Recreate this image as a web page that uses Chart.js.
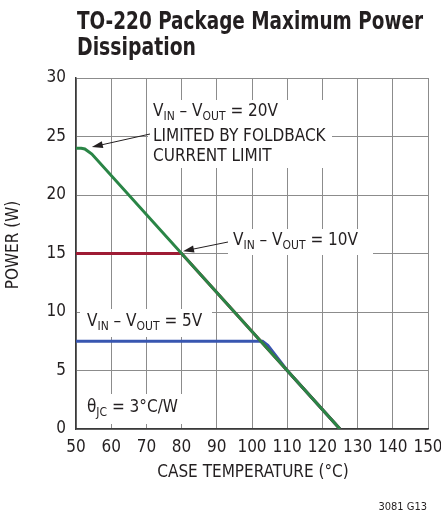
<!DOCTYPE html>
<html>
<head>
<meta charset="utf-8">
<script src="https://cdn.jsdelivr.net/npm/chart.js@4.4.1/dist/chart.umd.min.js"></script>
<style>
    html, body { margin: 0; padding: 0; background: #fff; }
    #wrap { width: 441px; height: 514px; position: relative; }
</style>
</head>
<body>
<div id="wrap"><canvas id="powerChart"></canvas></div>
<script>
    // case temperature (°C) / power (W)
    const greenTemp = [50, 51.5, 52.5, 53.5, 54.5, 125];
    const greenPower = [24, 24, 23.93, 23.72, 23.5, 0];
    const redTemp = [50, 80, 125];
    const redPower = [15, 15, 0];
    const blueTemp = [50, 103, 104.5, 110, 125];
    const bluePower = [7.5, 7.5, 7.15, 5, 0];

    const xTicks = [50, 60, 70, 80, 90, 100, 110, 120, 130, 140, 150];
    const yTicks = [0, 5, 10, 15, 20, 25, 30];

    const FONT = '"Liberation Sans Narrow", "DejaVu Sans Condensed", "Liberation Sans", sans-serif';
    const TEXT = '#231f20';

    function pts(xs, ys) {
        return xs.map(function(x, i) { return { x: x, y: ys[i] }; });
    }

    // V_IN – V_OUT = ... with subscripts
    function drawVLabel(ctx, x, y, tail) {
        const big = '17px ' + FONT;
        const small = '12px ' + FONT;
        const parts = [
            ['V', big, 0], ['IN', small, 5], [' \u2013 V', big, 0], ['OUT', small, 5], [tail, big, 0]
        ];
        ctx.textAlign = 'left';
        ctx.textBaseline = 'middle';
        let cx = x;
        parts.forEach(function(p) {
            ctx.font = p[1];
            ctx.fillText(p[0], cx, y + p[2]);
            cx += ctx.measureText(p[0]).width;
        });
        return cx - x;
    }

    // squeeze text into a given width (the original uses a condensed face)
    function fitText(ctx, txt, x, y, width) {
        const w = ctx.measureText(txt).width;
        ctx.save();
        ctx.translate(x, y);
        ctx.scale(Math.min(1, width / w), 1);
        ctx.fillText(txt, 0, 0);
        ctx.restore();
    }

    function arrow(ctx, x1, y1, x2, y2) {
        const ang = Math.atan2(y2 - y1, x2 - x1);
        ctx.strokeStyle = TEXT;
        ctx.fillStyle = TEXT;
        ctx.lineWidth = 1;
        ctx.beginPath();
        ctx.moveTo(x1, y1);
        ctx.lineTo(x2 - 8 * Math.cos(ang), y2 - 8 * Math.sin(ang));
        ctx.stroke();
        ctx.beginPath();
        ctx.moveTo(x2, y2);
        ctx.lineTo(x2 - 11 * Math.cos(ang) + 3.5 * Math.sin(ang), y2 - 11 * Math.sin(ang) - 3.5 * Math.cos(ang));
        ctx.lineTo(x2 - 11 * Math.cos(ang) - 3.5 * Math.sin(ang), y2 - 11 * Math.sin(ang) + 3.5 * Math.cos(ang));
        ctx.closePath();
        ctx.fill();
    }

    const notes = {
        id: 'notes',
        beforeDatasetsDraw: function(chart) {
            const ctx = chart.ctx;
            const xs = chart.scales.x, ys = chart.scales.y;
            ctx.save();

            // white boxes behind the labels
            ctx.fillStyle = '#fff';
            ctx.fillRect(148, 100, 184, 68);
            ctx.fillRect(228, 229, 145, 26);
            ctx.fillRect(80, 309, 132, 28);
            ctx.fillRect(80, 394, 110, 30);

            ctx.fillStyle = TEXT;
            drawVLabel(ctx, 153, 112, ' = 20V');
            ctx.font = '17px ' + FONT;
            ctx.fillText('LIMITED BY FOLDBACK', 153, 137);
            ctx.fillText('CURRENT LIMIT', 153, 157);
            drawVLabel(ctx, 233, 241, ' = 10V');
            drawVLabel(ctx, 87, 322, ' = 5V');

            // theta JC
            ctx.font = '17px ' + FONT;
            ctx.fillText('\u03b8', 87, 408);
            let w = ctx.measureText('\u03b8').width;
            ctx.font = '12px ' + FONT;
            ctx.fillText('JC', 87 + w, 413);
            w += ctx.measureText('JC').width;
            ctx.font = '17px ' + FONT;
            ctx.fillText(' = 3\u00b0C/W', 87 + w, 408);

            arrow(ctx, 150, 134, xs.getPixelForValue(54.5), ys.getPixelForValue(24.1));
            arrow(ctx, 228, 242, xs.getPixelForValue(80.4), ys.getPixelForValue(15.2));
            ctx.restore();
        },
        afterDraw: function(chart) {
            const ctx = chart.ctx;
            ctx.save();
            ctx.fillStyle = TEXT;
            ctx.textBaseline = 'alphabetic';
            ctx.textAlign = 'left';
            ctx.font = 'bold 25px ' + FONT;
            fitText(ctx, 'TO-220 Package Maximum Power', 77, 29, 346);
            fitText(ctx, 'Dissipation', 77, 55, 119);

            ctx.font = '17px ' + FONT;
            ctx.textAlign = 'center';
            ctx.textBaseline = 'middle';
            ctx.fillText('CASE TEMPERATURE (\u00b0C)', 253, 473);
            ctx.translate(14, 245);
            ctx.rotate(-Math.PI / 2);
            ctx.fillText('POWER (W)', 0, 0);
            ctx.restore();

            ctx.save();
            ctx.fillStyle = TEXT;
            ctx.font = '11px ' + FONT;
            ctx.textAlign = 'right';
            ctx.textBaseline = 'middle';
            ctx.fillText('3081 G13', 427, 507);
            ctx.restore();
        }
    };

    const lineStyle = { showLine: true, fill: false, pointRadius: 0, borderWidth: 3, tension: 0 };

    new Chart(document.getElementById('powerChart'), {
        type: 'scatter',
        data: {
            datasets: [
                Object.assign({ label: 'Limit', data: pts(greenTemp, greenPower), borderColor: '#2a8546' }, lineStyle),
                Object.assign({ label: '10V', data: pts(redTemp, redPower), borderColor: '#9e1b34' }, lineStyle),
                Object.assign({ label: '5V', data: pts(blueTemp, bluePower), borderColor: '#3856b0' }, lineStyle)
            ]
        },
        options: {
            responsive: true,
            maintainAspectRatio: false,
            animation: false,
            layout: { padding: { top: 78, right: 13, left: 0, bottom: 0 } },
            plugins: {
                legend: { display: false },
                tooltip: { enabled: false }
            },
            scales: {
                x: {
                    type: 'linear',
                    min: 50,
                    max: 150,
                    afterBuildTicks: function(s) { s.ticks = xTicks.map(function(v) { return { value: v }; }); },
                    afterFit: function(s) { s.height = 85; s.paddingLeft = 0; s.paddingRight = 0; },
                    ticks: { color: TEXT, font: { family: FONT, size: 17 }, padding: 8, maxRotation: 0 },
                    grid: { color: '#8c8c8c', lineWidth: 1, drawTicks: false },
                    border: { color: '#3a3a3a', width: 1.5 }
                },
                y: {
                    type: 'linear',
                    min: 0,
                    max: 30,
                    afterBuildTicks: function(s) { s.ticks = yTicks.map(function(v) { return { value: v }; }); },
                    afterFit: function(s) { s.width = 76; s.paddingTop = 0; s.paddingBottom = 0; },
                    ticks: { color: TEXT, font: { family: FONT, size: 17 }, padding: 10 },
                    grid: { color: '#8c8c8c', lineWidth: 1, drawTicks: false },
                    border: { color: '#3a3a3a', width: 1.5 }
                }
            }
        },
        plugins: [notes]
    });
</script>
</body>
</html>
